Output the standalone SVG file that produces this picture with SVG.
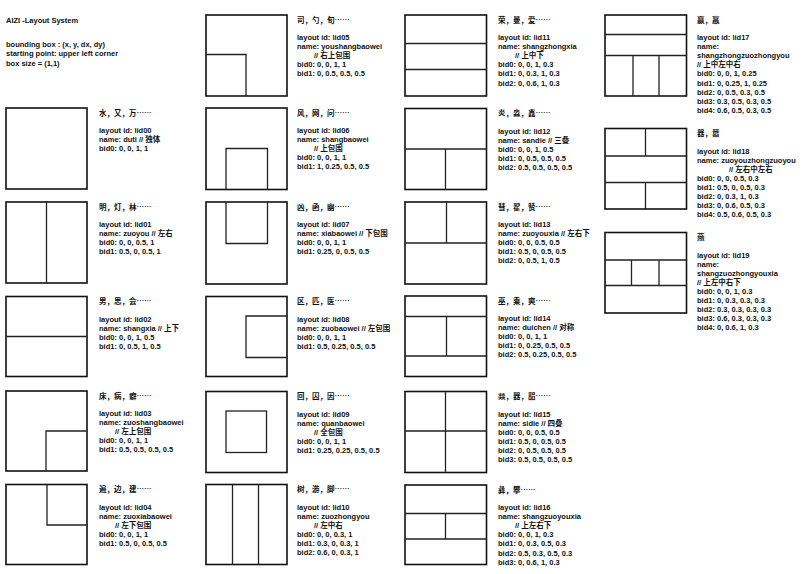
<svg xmlns="http://www.w3.org/2000/svg" width="803" height="574" viewBox="0 0 803 574">
<style>
text{font-family:"Liberation Sans","Noto Sans CJK SC",sans-serif;font-weight:bold;font-size:7.5px;fill:#111}
.hd{font-family:"Noto Sans CJK SC","Liberation Sans",sans-serif;font-size:7.5px}
.box{fill:none;stroke:#111;stroke-width:1.6}
.in{fill:none;stroke:#222;stroke-width:1.3}
</style>
<rect width="803" height="574" fill="#fff"/>
<g id="title">
<text x="6" y="22.5">AIZI -Layout System</text>
<text x="6" y="47">bounding box : (x, y, dx, dy)</text>
<text x="6" y="56.3">starting point: upper left corner</text>
<text x="6" y="65.6">box size = (1,1)</text>
</g>
<g id="connectors"/>

<g id="lid00" transform="translate(6,108)">
<rect class="box" width="81" height="81"/>
<text class="hd" x="93" y="7.5">水，又，万……</text>
<text x="93" y="25">layout id: lid00</text>
<text x="93" y="34.1">name: duti // 独体</text>
<text x="93" y="43.2">bid0: 0, 0, 1, 1</text>
</g>

<g id="lid01" transform="translate(6,202)">
<rect class="box" width="81" height="81"/>
<path class="in" d="M40.5,0V81"/>
<text class="hd" x="93" y="7.5">明，灯，林……</text>
<text x="93" y="25">layout id: lid01</text>
<text x="93" y="34.1">name: zuoyou // 左右</text>
<text x="93" y="43.2">bid0: 0, 0, 0.5, 1</text>
<text x="93" y="52.3">bid1: 0.5, 0, 0.5, 1</text>
</g>

<g id="lid02" transform="translate(6,296.5)">
<rect class="box" width="81" height="80"/>
<path class="in" d="M0,40H81"/>
<text class="hd" x="93" y="7.5">男，思，会……</text>
<text x="93" y="25">layout id: lid02</text>
<text x="93" y="34.1">name: shangxia // 上下</text>
<text x="93" y="43.2">bid0: 0, 0, 1, 0.5</text>
<text x="93" y="52.3">bid1: 0, 0.5, 1, 0.5</text>
</g>

<g id="lid03" transform="translate(6,391)">
<rect class="box" width="81" height="80"/>
<path class="in" d="M40,80V40H81"/>
<text class="hd" x="93" y="7.5">床，病，癖……</text>
<text x="93" y="25">layout id: lid03</text>
<text x="93" y="34.1">name: zuoshangbaowei</text>
<text x="109" y="43.2">// 左上包围</text>
<text x="93" y="52.3">bid0: 0, 0, 1, 1</text>
<text x="93" y="61.4">bid1: 0.5, 0.5, 0.5, 0.5</text>
</g>

<g id="lid04" transform="translate(6,484.5)">
<rect class="box" width="81" height="80"/>
<path class="in" d="M41,0V40.5H81"/>
<text class="hd" x="93" y="7.5">遍，边，建……</text>
<text x="93" y="25">layout id: lid04</text>
<text x="93" y="34.1">name: zuoxiabaowei</text>
<text x="109" y="43.2">// 左下包围</text>
<text x="93" y="52.3">bid0: 0, 0, 1, 1</text>
<text x="93" y="61.4">bid1: 0.5, 0, 0.5, 0.5</text>
</g>

<g id="lid05" transform="translate(206,15)">
<rect class="box" width="81" height="81"/>
<path class="in" d="M0,39.5H40V81"/>
<text class="hd" x="91" y="7.5">司，勺，旬……</text>
<text x="91" y="25">layout id: lid05</text>
<text x="91" y="34.1">name: youshangbaowei</text>
<text x="108" y="43.2">// 右上包围</text>
<text x="91" y="52.3">bid0: 0, 0, 1, 1</text>
<text x="91" y="61.4">bid1: 0, 0.5, 0.5, 0.5</text>
</g>

<g id="lid06" transform="translate(206,108)">
<rect class="box" width="81" height="81.5"/>
<path class="in" d="M20,81.5V40.5H61.5V81.5"/>
<text class="hd" x="91" y="7.5">风，网，问……</text>
<text x="91" y="25">layout id: lid06</text>
<text x="91" y="34.1">name: shangbaowei</text>
<text x="108" y="43.2">// 上包围</text>
<text x="91" y="52.3">bid0: 0, 0, 1, 1</text>
<text x="91" y="61.4">bid1: 1, 0.25, 0.5, 0.5</text>
</g>

<g id="lid07" transform="translate(206,202)">
<rect class="box" width="81" height="82"/>
<path class="in" d="M20,0V41.5H61.5V0"/>
<text class="hd" x="91" y="7.5">凶，函，幽……</text>
<text x="91" y="25">layout id: lid07</text>
<text x="91" y="34.1">name: xiabaowei // 下包围</text>
<text x="91" y="43.2">bid0: 0, 0, 1, 1</text>
<text x="91" y="52.3">bid1: 0.25, 0, 0.5, 0.5</text>
</g>

<g id="lid08" transform="translate(206,296.5)">
<rect class="box" width="81" height="80"/>
<path class="in" d="M81,19.5H40V61H81"/>
<text class="hd" x="91" y="7.5">区，匹，医……</text>
<text x="91" y="25">layout id: lid08</text>
<text x="91" y="34.1">name: zuobaowei // 左包围</text>
<text x="91" y="43.2">bid0: 0, 0, 1, 1</text>
<text x="91" y="52.3">bid1: 0.5, 0.25, 0.5, 0.5</text>
</g>

<g id="lid09" transform="translate(206,391.5)">
<rect class="box" width="81" height="81"/>
<rect class="in" x="20" y="19.5" width="40.5" height="41.5"/>
<text class="hd" x="91" y="7.5">回，囚，因……</text>
<text x="91" y="25">layout id: lid09</text>
<text x="91" y="34.1">name: quanbaowei</text>
<text x="108" y="43.2">// 全包围</text>
<text x="91" y="52.3">bid0: 0, 0, 1, 1</text>
<text x="91" y="61.4">bid1: 0.25, 0.25, 0.5, 0.5</text>
</g>

<g id="lid10" transform="translate(206,484.5)">
<rect class="box" width="81" height="80"/>
<path class="in" d="M26.5,0V80M52.5,0V80"/>
<text class="hd" x="91" y="7.5">树，游，脚……</text>
<text x="91" y="25">layout id: lid10</text>
<text x="91" y="34.1">name: zuozhongyou</text>
<text x="108" y="43.2">// 左中右</text>
<text x="91" y="52.3">bid0: 0, 0, 0.3, 1</text>
<text x="91" y="61.4">bid1: 0.3, 0, 0.3, 1</text>
<text x="91" y="70.5">bid2: 0.6, 0, 0.3, 1</text>
</g>

<g id="lid11" transform="translate(405,15)">
<rect class="box" width="81.5" height="81"/>
<path class="in" d="M0,28.5H81.5M0,54.5H81.5"/>
<text class="hd" x="93" y="7.5">荣，曼，爱……</text>
<text x="93" y="25">layout id: lid11</text>
<text x="93" y="34.1">name: shangzhongxia</text>
<text x="110" y="43.2">// 上中下</text>
<text x="93" y="52.3">bid0: 0, 0, 1, 0.3</text>
<text x="93" y="61.4">bid1: 0, 0.3, 1, 0.3</text>
<text x="93" y="70.5">bid2: 0, 0.6, 1, 0.3</text>
</g>

<g id="lid12" transform="translate(405,108.5)">
<rect class="box" width="81.5" height="81"/>
<path class="in" d="M0,40.5H81.5M40.5,40.5V81"/>
<text class="hd" x="93" y="7.5">炎，淼，鑫……</text>
<text x="93" y="25">layout id: lid12</text>
<text x="93" y="34.1">name: sandie // 三叠</text>
<text x="93" y="43.2">bid0: 0, 0, 1, 0.5</text>
<text x="93" y="52.3">bid1: 0, 0.5, 0.5, 0.5</text>
<text x="93" y="61.4">bid2: 0.5, 0.5, 0.5, 0.5</text>
</g>

<g id="lid13" transform="translate(405,202)">
<rect class="box" width="81.5" height="82"/>
<path class="in" d="M0,41H81.5M41.5,0V41"/>
<text class="hd" x="93" y="7.5">彗，翟，赞……</text>
<text x="93" y="25">layout id: lid13</text>
<text x="93" y="34.1">name: zuoyouxia // 左右下</text>
<text x="93" y="43.2">bid0: 0, 0, 0.5, 0.5</text>
<text x="93" y="52.3">bid1: 0.5, 0, 0.5, 0.5</text>
<text x="93" y="61.4">bid2: 0, 0.5, 1, 0.5</text>
</g>

<g id="lid14" transform="translate(405,296)">
<rect class="box" width="81.5" height="80.5"/>
<path class="in" d="M0,20.5H81.5M0,60H81.5M41.5,20.5V60"/>
<text class="hd" x="93" y="7.5">巫，乘，爽……</text>
<text x="93" y="25">layout id: lid14</text>
<text x="93" y="34.1">name: duichen // 对称</text>
<text x="93" y="43.2">bid0: 0, 0, 1, 1</text>
<text x="93" y="52.3">bid1: 0, 0.25, 0.5, 0.5</text>
<text x="93" y="61.4">bid2: 0.5, 0.25, 0.5, 0.5</text>
</g>

<g id="lid15" transform="translate(405,391.5)">
<rect class="box" width="81.5" height="81"/>
<path class="in" d="M40.5,0V81M0,39.5H81.5"/>
<text class="hd" x="93" y="7.5">燚，器，㗊……</text>
<text x="93" y="25">layout id: lid15</text>
<text x="93" y="34.1">name: sidie // 四叠</text>
<text x="93" y="43.2">bid0: 0, 0, 0.5, 0.5</text>
<text x="93" y="52.3">bid1: 0.5, 0, 0.5, 0.5</text>
<text x="93" y="61.4">bid2: 0, 0.5, 0.5, 0.5</text>
<text x="93" y="70.5">bid3: 0.5, 0.5, 0.5, 0.5</text>
</g>

<g id="lid16" transform="translate(405,485)">
<rect class="box" width="81.5" height="79.5"/>
<path class="in" d="M0,28.5H81.5M0,54H81.5M40.5,28.5V54"/>
<text class="hd" x="93" y="7.5">彝，攀……</text>
<text x="93" y="25">layout id: lid16</text>
<text x="93" y="34.1">name: shangzuoyouxia</text>
<text x="110" y="43.2">// 上左右下</text>
<text x="93" y="52.3">bid0: 0, 0, 1, 0.3</text>
<text x="93" y="61.4">bid1: 0, 0.3, 0.5, 0.3</text>
<text x="93" y="70.5">bid2: 0.5, 0.3, 0.5, 0.3</text>
<text x="93" y="79.6">bid3: 0, 0.6, 1, 0.3</text>
</g>

<g id="lid17" transform="translate(605,15)">
<rect class="box" width="81.5" height="81"/>
<path class="in" d="M0,19.5H81.5M0,40.5H81.5M28,40.5V81M54,40.5V81"/>
<text class="hd" x="92" y="7.5">嬴，羸</text>
<text x="92" y="25">layout id: lid17</text>
<text x="92" y="34.1">name:</text>
<text x="92" y="43.2">shangzhongzuozhongyou</text>
<text x="92" y="52.3">// 上中左中右</text>
<text x="92" y="61.4">bid0: 0, 0, 1, 0.25</text>
<text x="92" y="70.5">bid1: 0, 0.25, 1, 0.25</text>
<text x="92" y="79.6">bid2: 0, 0.5, 0.3, 0.5</text>
<text x="92" y="88.7">bid3: 0.3, 0.5, 0.3, 0.5</text>
<text x="92" y="97.8">bid4: 0.6, 0.5, 0.3, 0.5</text>
</g>

<g id="lid18" transform="translate(605,128.5)">
<rect class="box" width="81.5" height="80.5"/>
<path class="in" d="M0,27.5H81.5M0,54H81.5M40.5,0V27.5M40.5,54V80.5"/>
<text class="hd" x="92" y="7.5">器，嚣</text>
<text x="92" y="25">layout id: lid18</text>
<text x="92" y="34.1">name: zuoyouzhongzuoyou</text>
<text x="124" y="43.2">// 左右中左右</text>
<text x="92" y="52.3">bid0: 0, 0, 0.5, 0.3</text>
<text x="92" y="61.4">bid1: 0.5, 0, 0.5, 0.3</text>
<text x="92" y="70.5">bid2: 0, 0.3, 1, 0.3</text>
<text x="92" y="79.6">bid3: 0, 0.6, 0.5, 0.3</text>
<text x="92" y="88.7">bid4: 0.5, 0.6, 0.5, 0.3</text>
</g>

<g id="lid19" transform="translate(605,232.5)">
<rect class="box" width="81.5" height="80.5"/>
<path class="in" d="M0,27.5H81.5M0,53H81.5M26.5,27.5V53M54,27.5V53"/>
<text class="hd" x="92" y="7.5">燕</text>
<text x="92" y="25">layout id: lid19</text>
<text x="92" y="34.1">name:</text>
<text x="92" y="43.2">shangzuozhongyouxia</text>
<text x="92" y="52.3">// 上左中右下</text>
<text x="92" y="61.4">bid0: 0, 0, 1, 0.3</text>
<text x="92" y="70.5">bid1: 0, 0.3, 0.3, 0.3</text>
<text x="92" y="79.6">bid2: 0.3, 0.3, 0.3, 0.3</text>
<text x="92" y="88.7">bid3: 0.6, 0.3, 0.3, 0.3</text>
<text x="92" y="97.8">bid4: 0, 0.6, 1, 0.3</text>
</g>
</svg>
